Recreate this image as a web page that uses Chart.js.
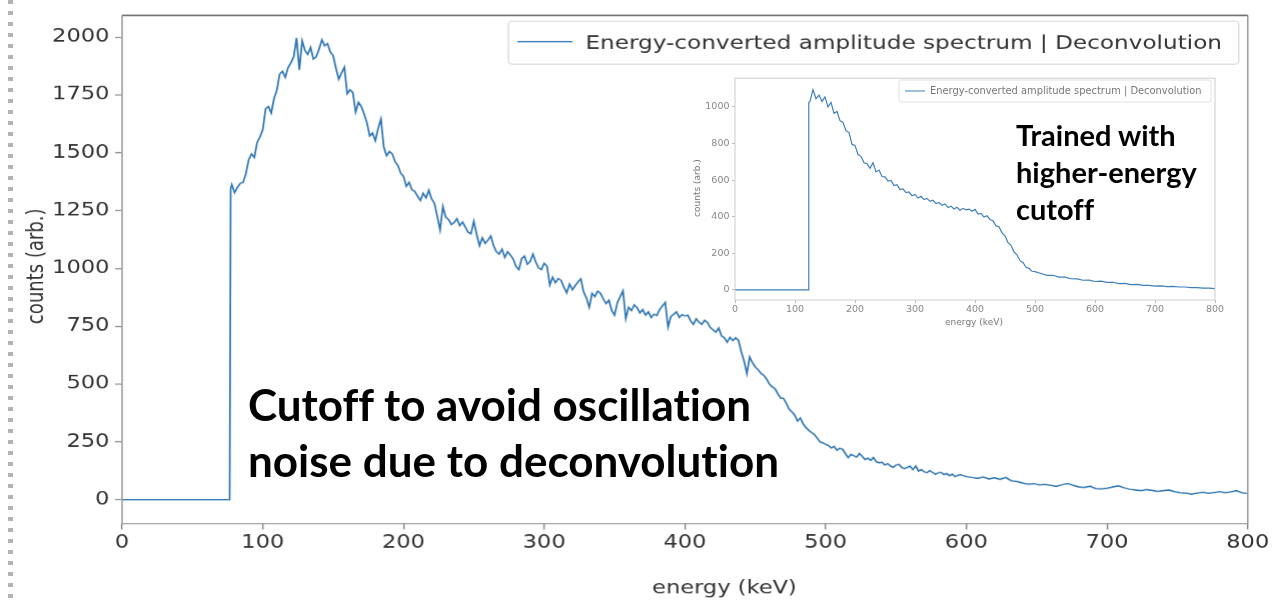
<!DOCTYPE html>
<html>
<head>
<meta charset="utf-8">
<script src="https://cdn.jsdelivr.net/npm/chart.js@4.4.0/dist/chart.umd.min.js"></script>
<style>
  html, body { margin:0; padding:0; background:#fff; width:1274px; height:603px; overflow:hidden; }
  #stretch { position:absolute; left:0; top:0; width:1019px; height:603px; transform:scaleX(1.250245); transform-origin:0 0; }
  #insetWrap { position:absolute; left:690px; top:70px; width:540px; height:262px; }
  #dots { position:absolute; left:8px; top:0; width:5px; height:603px;
          background:repeating-linear-gradient(to bottom, #b3b3b3 0 4px, transparent 4px 11px); }
  .note { position:absolute; font-family:Lato, "Open Sans", sans-serif; font-weight:bold; color:#000; white-space:nowrap;
          font-variant-ligatures:none; font-feature-settings:"liga" 0, "clig" 0; }
</style>
</head>
<body>
<div id="dots"></div>
<div id="stretch"><canvas id="main" width="1019" height="603"></canvas></div>
<div id="insetWrap"><canvas id="inset" width="540" height="262"></canvas></div>
<div class="note" id="note1" style="left:248px; top:376px; font-size:44px; line-height:56px;">Cutoff to avoid oscillation<br>noise due to deconvolution</div>
<div class="note" id="note2" style="left:1016px; top:116px; font-size:29px; line-height:37px;">Trained with<br>higher-energy<br>cutoff</div>
<script>
// ---------------- data: main spectrum ----------------
const seriesLabel = 'Energy-converted amplitude spectrum | Deconvolution';
const xTitle = 'energy (keV)';
const yTitle = 'counts (arb.)';
const xTicks = [0, 100, 200, 300, 400, 500, 600, 700, 800];
const yTicks = [0, 250, 500, 750, 1000, 1250, 1500, 1750, 2000];

const energy = [
  0, 76.5, 77.2,
  78,80,82,84,86,88,90,92,94,96,
  98,100,102,104,106,108,110,112,114,116,
  118,120,122,124,126,128,130,132,134,136,
  138,140,142,144,146,148,150,152,154,156,
  158,160,162,164,166,168,170,172,174,176,
  178,180,182,184,186,188,190,192,194,196,
  198,200,202,204,206,208,210,212,214,216,
  218,220,222,224,226,228,230,232,234,236,
  238,240,242,244,246,248,250,252,254,256,
  258,260,262,264,266,268,270,272,274,276,
  278,280,282,284,286,288,290,292,294,296,
  298,300,302,304,306,308,310,312,314,316,
  318,320,322,324,326,328,330,332,334,336,
  338,340,342,344,346,348,350,352,354,356,
  358,360,362,364,366,368,370,372,374,376,
  378,380,382,384,386,388,390,392,394,396,
  398,400,402,404,406,408,410,412,414,416,
  418,420,422,424,426,428,430,432,434,436,
  438,440,442,444,446,448,450,452,454,456,
  458,460,462,464,466,468,470,472,474,476,
  478,480,482,484,486,488,490,492,494,496,
  498,500,502,504,506,508,510,512,514,516,
  518,520,522,524,526,528,530,532,534,536,
  538,540,542,544,546,548,550,552,554,556,
  558,560,562,564,566,568,570,572,574,576,
  578,580,582,584,586,588,590,592,594,596,
  600,604,608,612,616,620,624,628,632,636,
  640,644,648,652,656,660,664,668,672,676,
  680,684,688,692,696,700,704,708,712,716,
  720,724,728,732,736,740,744,748,752,756,
  760,764,768,772,776,780,784,788,792,796,
  800
];
const counts = [
  0, 0, 1345,
  1362,1328,1350,1368,1372,1410,1470,1495,1480,1545,
  1568,1600,1690,1700,1672,1735,1770,1840,1852,1826,
  1868,1889,1915,1996,1858,1984,1942,1925,1955,1905,
  1915,1948,1988,1962,1972,1935,1920,1865,1818,1845,
  1870,1755,1772,1760,1676,1718,1700,1668,1630,1573,
  1585,1552,1605,1646,1525,1487,1505,1496,1462,1445,
  1412,1398,1355,1372,1340,1333,1312,1294,1325,1305,
  1338,1300,1282,1225,1166,1268,1222,1212,1190,1198,
  1215,1185,1200,1178,1156,1150,1204,1148,1098,1132,
  1108,1122,1140,1098,1072,1062,1083,1048,1072,1058,
  1040,1008,995,1042,1053,1018,1030,1062,1028,1002,
  995,1022,1010,928,962,938,956,948,918,895,
  932,908,925,942,955,898,872,832,892,878,
  902,892,868,848,862,818,798,852,878,903,
  783,832,818,842,830,808,822,798,812,788,
  802,796,822,838,853,746,792,802,812,788,
  800,794,798,774,758,782,768,758,776,766,
  745,734,724,742,708,700,681,702,688,700,
  690,640,600,545,617,592,574,562,546,538,
  522,500,488,480,458,440,438,418,392,380,
  366,340,353,328,312,300,290,282,266,250,
  246,240,234,224,230,214,222,218,200,182,
  196,190,184,200,188,174,180,170,182,164,
  160,162,150,156,146,140,150,153,140,134,
  140,145,130,146,124,130,121,117,126,118,
  110,116,118,109,113,104,110,100,106,108,
  100,96,92,98,90,95,88,96,82,78,
  72,67,70,64,66,62,58,65,70,62,
  55,53,58,48,46,50,55,60,52,45,
  42,39,44,40,36,39,42,35,30,28,
  24,28,32,27,31,35,30,34,39,30,
  26
];

// ---------------- data: inset spectrum ----------------
const insetXTicks = [0, 100, 200, 300, 400, 500, 600, 700, 800];
const insetYTicks = [0, 200, 400, 600, 800, 1000];
const insetEnergy = [
  0, 122, 123,
  125,130,135,140,145,150,155,160,165,170,
  175,180,185,190,195,200,205,210,215,220,
  225,230,235,240,245,250,255,260,265,270,
  275,280,285,290,295,300,305,310,315,320,
  325,330,335,340,345,350,355,360,365,370,
  375,380,385,390,395,400,405,410,415,420,
  425,430,435,440,445,450,455,460,465,470,
  475,480,485,490,495,500,
  510,520,530,540,550,560,570,580,590,600,
  610,620,630,640,650,660,670,680,690,700,
  710,720,730,740,750,760,770,780,790,800
];
const insetCounts = [
  0, 0, 1025,
  1030,1095,1045,1065,1030,1055,1000,1025,965,975,
  925,915,870,860,795,790,740,730,695,690,
  665,695,645,655,620,618,595,598,570,575,
  548,552,532,535,515,522,502,512,494,500,
  484,490,472,478,462,470,450,458,442,452,
  436,446,438,442,430,440,415,418,398,405,
  385,378,350,345,312,296,258,244,208,192,
  160,150,124,118,102,100,
  90,80,80,70,70,61,60,53,54,46,
  48,41,42,35,36,29,30,25,25,21,
  22,18,19,16,16,13,13,10,10,7
];

// ---------------- main chart ----------------
const SX = 1274 / 1019;           // horizontal stretch of the main figure
const L = v => v / SX;            // real x pixel -> logical x
const plain = v => String(v);

const mainDeco = {
  id: 'mainDeco',
  afterDraw(chart) {
    const { ctx, chartArea: a } = chart;
    ctx.save();
    // spines
    ctx.lineWidth = 1.3;
    ctx.strokeStyle = '#a0a0a0';
    ctx.beginPath();
    ctx.moveTo(a.left, a.top); ctx.lineTo(a.left, a.bottom);
    ctx.lineTo(a.right, a.bottom); ctx.lineTo(a.right, a.top);
    ctx.stroke();
    ctx.strokeStyle = '#6e6e6e';
    ctx.lineWidth = 1.6;
    ctx.beginPath(); ctx.moveTo(a.left, a.top); ctx.lineTo(a.right, a.top); ctx.stroke();

    // legend (inside axes, upper right)
    const ds = chart.data.datasets[0];
    const bx = L(508), by = 21, bw = L(1238) - L(508), bh = 43, r = 3;
    ctx.fillStyle = 'rgba(255,255,255,0.85)';
    ctx.strokeStyle = '#d8d8d8';
    ctx.lineWidth = 1;
    ctx.beginPath();
    ctx.roundRect(bx, by, bw, bh, r);
    ctx.fill(); ctx.stroke();
    ctx.strokeStyle = ds.borderColor;
    ctx.lineWidth = ds.borderWidth;
    ctx.beginPath(); ctx.moveTo(L(517), 41.5); ctx.lineTo(L(572), 41.5); ctx.stroke();
    ctx.fillStyle = '#333';
    ctx.font = '18.5px "DejaVu Sans"';
    ctx.textAlign = 'left'; ctx.textBaseline = 'alphabetic';
    ctx.fillText(ds.label, L(585), 49);

    // axis titles
    ctx.font = '18px "DejaVu Sans"';
    ctx.textAlign = 'center';
    ctx.fillText(xTitle, L(724), 593);
    ctx.translate(L(37), 266);
    ctx.rotate(-Math.PI / 2);
    ctx.textBaseline = 'middle';
    ctx.fillText(yTitle, 0, 0);
    ctx.restore();
  }
};

new Chart(document.getElementById('main'), {
  type: 'line',
  data: {
    datasets: [{
      label: seriesLabel,
      data: energy.map((e, i) => ({ x: e, y: counts[i] })),
      borderColor: '#2f76b3',
      borderWidth: 1.4,
      pointRadius: 0,
      tension: 0,
      fill: false
    }]
  },
  options: {
    responsive: false,
    animation: false,
    devicePixelRatio: 1.25,
    layout: { padding: { left: 0, top: 10, right: 1019 - L(1247), bottom: 0 } },
    plugins: { legend: { display: false }, tooltip: { enabled: false } },
    scales: {
      x: {
        type: 'linear', min: 0, max: 800,
        afterFit(s) { s.height = 80; },
        afterBuildTicks(s) { s.ticks = xTicks.map(v => ({ value: v })); },
        ticks: { font: { family: 'DejaVu Sans', size: 18 }, color: '#333', padding: 3, maxRotation: 0, autoSkip: false, callback: plain },
        grid: { drawOnChartArea: false, tickLength: 6, color: '#8a8a8a', tickWidth: 1.2 },
        border: { display: false }
      },
      y: {
        type: 'linear', min: -103, max: 2094,
        afterFit(s) { s.width = L(122); },
        afterBuildTicks(s) { s.ticks = yTicks.map(v => ({ value: v })); },
        ticks: { font: { family: 'DejaVu Sans', size: 18 }, color: '#333', padding: 4.5, autoSkip: false, callback: plain },
        grid: { drawOnChartArea: false, tickLength: 5.6, color: '#8a8a8a', tickWidth: 1.2 },
        border: { display: false }
      }
    }
  },
  plugins: [mainDeco]
});

// ---------------- inset chart ----------------
const insetDeco = {
  id: 'insetDeco',
  afterDraw(chart) {
    const { ctx, chartArea: a } = chart;
    ctx.save();
    ctx.strokeStyle = '#cdcdcd';
    ctx.lineWidth = 1;
    ctx.strokeRect(a.left, a.top, a.right - a.left, a.bottom - a.top);
    const ds = chart.data.datasets[0];
    ctx.fillStyle = 'rgba(255,255,255,0.85)';
    ctx.strokeStyle = '#e0e0e0';
    ctx.beginPath(); ctx.roundRect(209, 10, 312, 22, 2); ctx.fill(); ctx.stroke();
    ctx.strokeStyle = ds.borderColor; ctx.lineWidth = 1;
    ctx.beginPath(); ctx.moveTo(215, 21); ctx.lineTo(235, 21); ctx.stroke();
    ctx.fillStyle = '#777';
    ctx.font = '9.9px "DejaVu Sans"';
    ctx.textAlign = 'left'; ctx.textBaseline = 'middle';
    ctx.fillText(ds.label, 240, 21.5);
    ctx.font = '9px "DejaVu Sans"';
    ctx.textAlign = 'center';
    ctx.fillText(xTitle, 284, 253);
    ctx.translate(8, 118);
    ctx.rotate(-Math.PI / 2);
    ctx.fillText(yTitle, 0, 0);
    ctx.restore();
  }
};

new Chart(document.getElementById('inset'), {
  type: 'line',
  data: {
    datasets: [{
      label: seriesLabel,
      data: insetEnergy.map((e, i) => ({ x: e, y: insetCounts[i] })),
      borderColor: '#3f80ba',
      borderWidth: 1.2,
      pointRadius: 0,
      tension: 0,
      fill: false
    }]
  },
  options: {
    responsive: false,
    animation: false,
    devicePixelRatio: 1,
    layout: { padding: { left: 0, top: 8, right: 15, bottom: 0 } },
    plugins: { legend: { display: false }, tooltip: { enabled: false } },
    scales: {
      x: {
        type: 'linear', min: 0, max: 800,
        afterFit(s) { s.height = 32; },
        afterBuildTicks(s) { s.ticks = insetXTicks.map(v => ({ value: v })); },
        ticks: { font: { family: 'DejaVu Sans', size: 9.5 }, color: '#888', padding: 1, maxRotation: 0, autoSkip: false, callback: plain },
        grid: { drawOnChartArea: false, tickLength: 3, color: '#bbb' },
        border: { display: false }
      },
      y: {
        type: 'linear', min: -55, max: 1157,
        afterFit(s) { s.width = 45; },
        afterBuildTicks(s) { s.ticks = insetYTicks.map(v => ({ value: v })); },
        ticks: { font: { family: 'DejaVu Sans', size: 9.5 }, color: '#888', padding: 2.5, autoSkip: false, callback: plain },
        grid: { drawOnChartArea: false, tickLength: 3, color: '#bbb' },
        border: { display: false }
      }
    }
  },
  plugins: [insetDeco]
});
</script>
</body>
</html>
